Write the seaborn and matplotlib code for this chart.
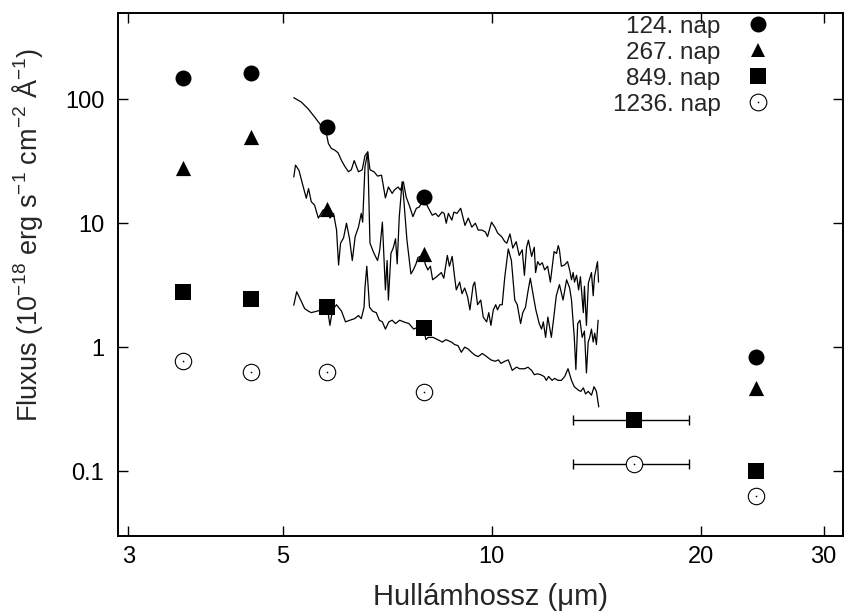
import matplotlib
matplotlib.use("Agg")
import matplotlib.pyplot as plt
import seaborn as sns
from matplotlib.lines import Line2D
from matplotlib.legend_handler import HandlerTuple
from matplotlib.ticker import FixedLocator, FixedFormatter, NullLocator

# photometry (IRAC 3.6-8.0, IRS peak-up 16, MIPS 24)
wl_four = [3.6, 4.5, 5.8, 8.0, 24.0]
flux_124 = [148, 162, 60, 16.3, 0.83]
flux_267 = [28, 50, 13.1, 5.6, 0.47]
wl_six = [3.6, 4.5, 5.8, 8.0, 16.0, 24.0]
flux_849 = [2.8, 2.45, 2.1, 1.42, 0.258, 0.10]
flux_1236 = [0.77, 0.63, 0.63, 0.435, 0.115, 0.063]
pu_center, pu_lo, pu_hi = 16.0, 13.1, 19.2

# IRS spectra
spec_wl_124 = [5.19, 5.32, 5.44, 5.56, 5.65, 5.79, 5.82, 5.88, 5.94, 6.01, 6.08, 6.14, 6.22, 6.28,
               6.34, 6.43, 6.51, 6.57, 6.63, 6.68, 6.77, 6.85, 6.94, 7.03, 7.10, 7.19, 7.24, 7.33,
               7.39, 7.46, 7.53, 7.61, 7.70, 7.79, 7.86, 7.99, 8.11, 8.21, 8.30, 8.38, 8.48, 8.54,
               8.60, 8.66, 8.76, 8.82, 8.91, 9.02, 9.15, 9.25, 9.36, 9.47, 9.56, 9.68, 9.79, 9.86,
               9.99, 10.10, 10.20, 10.33, 10.44, 10.51, 10.62, 10.72, 10.84, 10.95, 11.06, 11.14,
               11.22, 11.29, 11.41, 11.51, 11.56, 11.64, 11.72, 11.82, 11.91, 12.03, 12.14, 12.29,
               12.39, 12.46, 12.51, 12.59, 12.72, 12.85, 12.94, 13.02, 13.09, 13.15, 13.24, 13.33,
               13.41, 13.54, 13.59, 13.68, 13.77, 13.91, 13.99, 14.05, 14.19, 14.24]
spec_flux_124 = [103, 95, 84, 72, 64, 51, 44, 40, 39, 37, 32, 29, 26, 27,
                 32, 26, 27, 35, 37.6, 27, 26, 24, 24.4, 16, 19.6, 17.4, 18.5, 19.6,
                 18.5, 21.6, 16.3, 13.9, 11.3, 13.2, 13.5, 15.5, 13.2, 11.6, 12, 11.3, 12.3, 12,
                 10, 12, 10.6, 12.3, 12, 13.2, 9.6, 11, 9.3, 10, 8.8, 8.8, 8.5, 7.8,
                 10.2, 9.3, 8.3, 7.8, 7.1, 6.9, 8.2, 6.3, 7.1, 5.5, 6.1, 3.8,
                 6.4, 7.3, 5.4, 6.4, 4.0, 4.9, 4.6, 4.8, 4.2, 4.5, 3.35, 5.9,
                 5.7, 6.6, 6.1, 4.5, 4.6, 4.9, 4.2, 3.5, 4.0, 3.35, 3.8, 2.9,
                 3.7, 1.9, 3.1, 1.5, 3.3, 4.0, 2.6, 3.7, 4.9, 3.35]

spec_wl_267 = [5.19, 5.22, 5.28, 5.34, 5.41, 5.45, 5.50, 5.56, 5.63, 5.72, 5.80, 5.85, 5.92, 5.98,
               6.02, 6.06, 6.12, 6.18, 6.24, 6.30, 6.36, 6.43, 6.49, 6.52, 6.57, 6.63, 6.68, 6.77,
               6.85, 6.90, 6.96, 7.03, 7.07, 7.10, 7.16, 7.22, 7.27, 7.31, 7.36, 7.43, 7.46, 7.55,
               7.65, 7.71, 7.78, 7.83, 7.97, 8.02, 8.09, 8.16, 8.22, 8.33, 8.46, 8.53, 8.63, 8.69,
               8.77, 8.84, 8.89, 8.99, 9.06, 9.14, 9.23, 9.30, 9.40, 9.45, 9.54, 9.64, 9.72, 9.83,
               9.90, 9.97, 10.05, 10.13, 10.19, 10.27, 10.35, 10.44, 10.56, 10.67, 10.79, 10.88,
               11.00, 11.08, 11.18, 11.27, 11.36, 11.48, 11.57, 11.70, 11.79, 11.86, 11.95, 12.04,
               12.18, 12.28, 12.38, 12.51, 12.66, 12.81, 12.94, 13.02, 13.14, 13.21, 13.29, 13.39,
               13.49, 13.59, 13.68, 13.76, 13.83, 13.91, 13.99, 14.06, 14.14, 14.22]
spec_flux_267 = [23.6, 29.4, 26.7, 20.9, 15.9, 19, 14.9, 14, 11, 12.8, 13.0, 11, 12, 8.8,
                 4.6, 6.9, 7.6, 10, 7.6, 5.0, 7.8, 9.3, 12, 10.2, 28.5, 37.6, 6.9, 5.7,
                 5.0, 6.1, 10.2, 2.9, 5.0, 2.4, 5.7, 6.4, 7.5, 4.7, 11.2, 21.6, 17.3, 7.3,
                 3.9, 4.2, 4.7, 5.3, 5.5, 4.7, 4.2, 4.5, 3.5, 3.7, 4.0, 3.6, 5.5, 4.5,
                 5.4, 3.7, 2.9, 3.35, 2.7, 3.0, 2.55, 2.0, 3.15, 3.35, 2.2, 2.4, 1.75, 1.6,
                 1.9, 1.5, 2.0, 2.2, 2.0, 2.2, 2.2, 3.7, 6.2, 5.0, 2.4, 2.2,
                 1.55, 1.9, 2.1, 2.8, 3.6, 2.55, 2.0, 1.55, 1.4, 1.6, 1.2, 1.75,
                 1.2, 1.75, 2.6, 3.2, 2.4, 3.5, 3.0, 2.4, 1.2, 0.66, 1.55, 1.65,
                 1.2, 1.35, 0.62, 1.1, 1.2, 1.4, 1.1, 1.3, 1.05, 1.65]

spec_wl_849 = [5.19, 5.24, 5.31, 5.38, 5.45, 5.50, 5.60, 5.69, 5.80, 5.85, 5.90, 5.98, 6.08, 6.16,
               6.25, 6.35, 6.43, 6.49, 6.55, 6.57, 6.61, 6.67, 6.74, 6.82, 6.89, 6.96, 7.03, 7.11,
               7.19, 7.27, 7.37, 7.47, 7.60, 7.72, 7.83, 7.99, 8.04, 8.10, 8.23, 8.36, 8.49, 8.59,
               8.75, 8.84, 8.94, 9.04, 9.14, 9.24, 9.35, 9.45, 9.56, 9.69, 9.83, 9.97, 10.11, 10.22,
               10.31, 10.44, 10.56, 10.70, 10.85, 10.97, 11.15, 11.27, 11.41, 11.51, 11.63, 11.76,
               11.89, 11.98, 12.07, 12.21, 12.31, 12.45, 12.59, 12.73, 12.87, 13.02, 13.14, 13.32,
               13.43, 13.54, 13.64, 13.76, 13.91, 14.03, 14.14, 14.25]
spec_flux_849 = [2.18, 2.8, 2.4, 2.05, 1.95, 1.9, 1.95, 2.0, 2.1, 1.5, 2.0, 2.2, 1.95, 1.6,
                 1.65, 1.7, 1.8, 1.7, 2.1, 3.0, 4.5, 2.1, 1.95, 1.9, 1.65, 1.6, 1.4, 1.6,
                 1.65, 1.55, 1.65, 1.6, 1.55, 1.4, 1.45, 1.35, 1.15, 1.2, 1.2, 1.15, 1.1, 1.15,
                 1.1, 1.05, 1.03, 0.91, 1.0, 0.97, 0.91, 0.865, 0.84, 0.89, 0.84, 0.79, 0.77, 0.79,
                 0.74, 0.77, 0.79, 0.65, 0.69, 0.67, 0.67, 0.69, 0.65, 0.6, 0.61, 0.6,
                 0.58, 0.54, 0.58, 0.54, 0.56, 0.54, 0.54, 0.58, 0.67, 0.54, 0.48, 0.45,
                 0.44, 0.47, 0.42, 0.44, 0.41, 0.48, 0.44, 0.33]

x_ticks = [3, 5, 10, 20, 30]
x_tick_labels = ["3", "5", "10", "20", "30"]
y_ticks = [0.1, 1, 10, 100]
y_tick_labels = ["0.1", "1", "10", "100"]
labels = ["124. nap", "267. nap", "849. nap", "1236. nap"]

sns.set_style("ticks")
plt.rcParams["font.family"] = ["Liberation Sans", "DejaVu Sans"]
plt.rcParams["mathtext.default"] = "regular"

fig = plt.figure(figsize=(8.46, 6.15), dpi=100)
ax = fig.add_axes([0.1395, 0.1285, 0.857, 0.851])
ax.set_xscale("log")
ax.set_yscale("log")

for wl, fl in [(spec_wl_124, spec_flux_124), (spec_wl_267, spec_flux_267), (spec_wl_849, spec_flux_849)]:
    sns.lineplot(x=wl, y=fl, ax=ax, color="black", lw=0.9, sort=False, estimator=None, zorder=2)

ax.errorbar([pu_center, pu_center], [flux_849[4], flux_1236[4]],
            xerr=[[pu_center - pu_lo] * 2, [pu_hi - pu_center] * 2],
            fmt="none", ecolor="black", elinewidth=1, capsize=3.5, capthick=1, zorder=2)

sns.scatterplot(x=wl_four, y=flux_124, ax=ax, marker="o", s=132, color="black", linewidth=0, zorder=3)
sns.scatterplot(x=wl_four, y=flux_267, ax=ax, marker="^", s=120, color="black", linewidth=0, zorder=3)
sns.scatterplot(x=wl_six, y=flux_849, ax=ax, marker="s", s=125, color="black", linewidth=0, zorder=3)
sns.scatterplot(x=wl_six, y=flux_1236, ax=ax, marker="o", s=140, facecolor="white",
                edgecolor="black", linewidth=0.8, zorder=3)
sns.scatterplot(x=wl_six, y=flux_1236, ax=ax, marker="o", s=1.5, color="black", linewidth=0, zorder=4)

ax.set_xlim(2.9, 32)
ax.set_ylim(0.03, 500)
ax.xaxis.set_major_locator(FixedLocator(x_ticks))
ax.xaxis.set_major_formatter(FixedFormatter(x_tick_labels))
ax.xaxis.set_minor_locator(NullLocator())
ax.yaxis.set_major_locator(FixedLocator(y_ticks))
ax.yaxis.set_major_formatter(FixedFormatter(y_tick_labels))
ax.yaxis.set_minor_locator(NullLocator())
ax.tick_params(direction="in", top=True, right=True, length=7, width=1,
               labelsize=17, colors="black")
ax.tick_params(axis="x", pad=7)
ax.tick_params(axis="y", pad=10)
for sp in ax.spines.values():
    sp.set_linewidth(1.4)
    sp.set_color("black")

ax.set_xlabel("Hullámhossz (μm)", fontsize=21)
ax.set_ylabel("Fluxus (10$^{−18}$ erg s$^{−1}$ cm$^{−2}$ Å$^{−1}$)", fontsize=19.5)
ax.xaxis.set_label_coords(0.514, -0.09)
ax.yaxis.set_label_coords(-0.101, 0.575)

h1 = Line2D([], [], ls="none", marker="o", ms=11.5, color="black", mew=0)
h2 = Line2D([], [], ls="none", marker="^", ms=10, color="black", mew=0)
h3 = Line2D([], [], ls="none", marker="s", ms=11, color="black", mew=0)
h4a = Line2D([], [], ls="none", marker="o", ms=12, mfc="white", mec="black", mew=0.8)
h4b = Line2D([], [], ls="none", marker="o", ms=1.2, color="black", mew=0)
ax.legend([h1, h2, h3, (h4a, h4b)], labels, loc="upper right", markerfirst=False, frameon=False,
          fontsize=17.5, labelspacing=0.17, handletextpad=1.05, handlelength=1.0,
          borderaxespad=0.0, bbox_to_anchor=(0.913, 1.013),
          handler_map={tuple: HandlerTuple(ndivide=1, pad=0)})

fig.savefig("out.png", dpi=100)
